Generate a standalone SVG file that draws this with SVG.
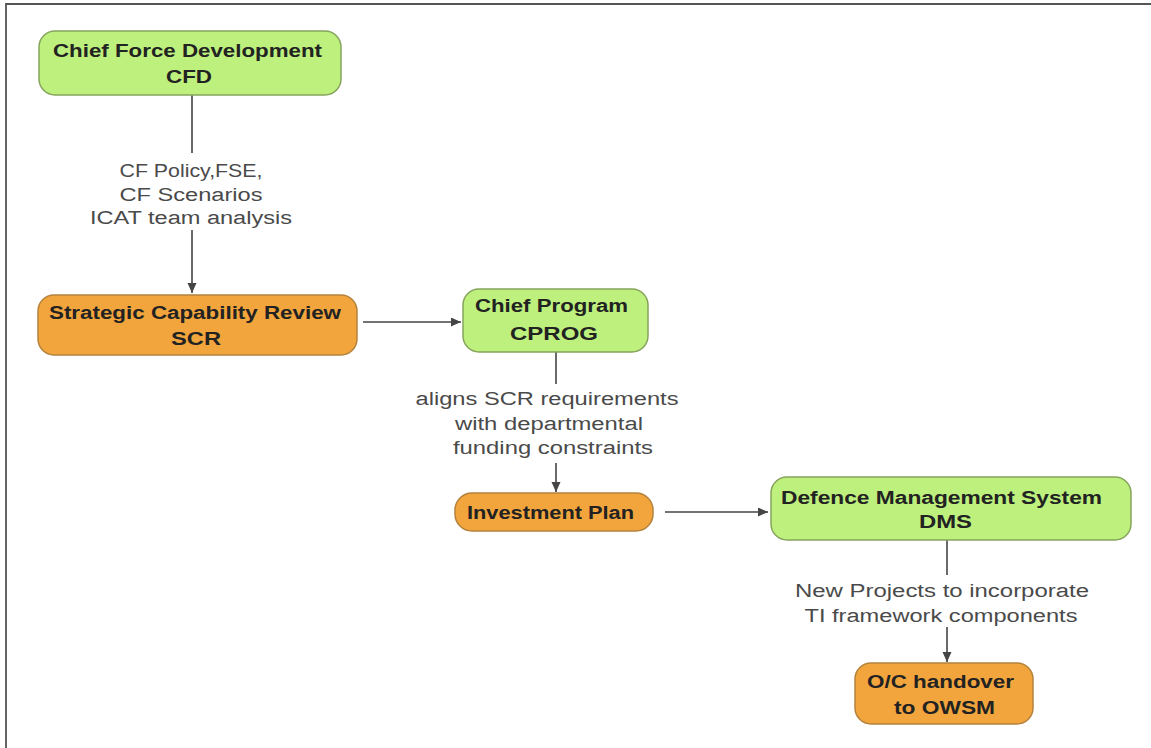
<svg xmlns="http://www.w3.org/2000/svg" width="1151" height="748" viewBox="0 0 1151 748">
<style>
.green{fill:#bdf07c;stroke:#86a45c;stroke-width:1.5}
.orange{fill:#f2a53d;stroke:#b4823c;stroke-width:1.5}
.nt{font-family:"Liberation Sans",Arial,sans-serif;font-size:18px;font-weight:bold;fill:#222;text-anchor:middle}
.lt{font-family:"Liberation Sans",Arial,sans-serif;font-size:18px;fill:#4a4a4a;text-anchor:middle}
.edge{stroke:#454545;stroke-width:1.6;fill:none}
.frame{stroke:#555;stroke-width:1.8;fill:none}
</style>
<defs>
<marker id="arr" markerUnits="userSpaceOnUse" markerWidth="11" markerHeight="10" refX="10" refY="4.5" orient="auto">
<path d="M0,0 L10,4.5 L0,9 z" fill="#454545"/>
</marker>
</defs>
<rect x="0" y="0" width="1151" height="748" fill="#fff"/>
<path class="frame" d="M6,748 L6,4 L1151,4"/>

<g id="connectors">
<line class="edge" x1="192" y1="95" x2="192" y2="153"/>
<text class="lt" x="191" y="177" textLength="143" lengthAdjust="spacingAndGlyphs">CF Policy,FSE,</text>
<text class="lt" x="191" y="201" textLength="143" lengthAdjust="spacingAndGlyphs">CF Scenarios</text>
<text class="lt" x="191" y="224" textLength="202" lengthAdjust="spacingAndGlyphs">ICAT team analysis</text>
<line class="edge" x1="192" y1="230" x2="192" y2="293" marker-end="url(#arr)"/>

<line class="edge" x1="363" y1="322" x2="461" y2="322" marker-end="url(#arr)"/>

<line class="edge" x1="556" y1="352" x2="556" y2="384"/>
<text class="lt" x="547" y="405" textLength="263" lengthAdjust="spacingAndGlyphs">aligns SCR requirements</text>
<text class="lt" x="549" y="430" textLength="188" lengthAdjust="spacingAndGlyphs">with departmental</text>
<text class="lt" x="553" y="454" textLength="200" lengthAdjust="spacingAndGlyphs">funding constraints</text>
<line class="edge" x1="556" y1="463" x2="556" y2="492" marker-end="url(#arr)"/>

<line class="edge" x1="665" y1="512" x2="768" y2="512" marker-end="url(#arr)"/>

<line class="edge" x1="947" y1="540" x2="947" y2="575"/>
<text class="lt" x="942" y="597" textLength="294" lengthAdjust="spacingAndGlyphs">New Projects to incorporate</text>
<text class="lt" x="941" y="622" textLength="273" lengthAdjust="spacingAndGlyphs">TI framework components</text>
<line class="edge" x1="947" y1="627" x2="947" y2="662" marker-end="url(#arr)"/>
</g>

<g id="cfd">
<rect class="green" x="39" y="31" width="302" height="64" rx="16"/>
<text class="nt" x="187.5" y="57" textLength="269" lengthAdjust="spacingAndGlyphs">Chief Force Development</text>
<text class="nt" x="189" y="83" textLength="46" lengthAdjust="spacingAndGlyphs">CFD</text>
</g>

<g id="scr">
<rect class="orange" x="38" y="295" width="319" height="60" rx="16"/>
<text class="nt" x="195" y="319" textLength="292" lengthAdjust="spacingAndGlyphs">Strategic Capability Review</text>
<text class="nt" x="196" y="345" textLength="50" lengthAdjust="spacingAndGlyphs">SCR</text>
</g>

<g id="cprog">
<rect class="green" x="463" y="289" width="185" height="63" rx="16"/>
<text class="nt" x="551.5" y="312" textLength="153" lengthAdjust="spacingAndGlyphs">Chief Program</text>
<text class="nt" x="554" y="340" textLength="88" lengthAdjust="spacingAndGlyphs">CPROG</text>
</g>

<g id="investment-plan">
<rect class="orange" x="455" y="493" width="198" height="38" rx="17"/>
<text class="nt" x="550.5" y="519" textLength="167" lengthAdjust="spacingAndGlyphs">Investment Plan</text>
</g>

<g id="dms">
<rect class="green" x="771" y="477" width="360" height="63" rx="16"/>
<text class="nt" x="941.5" y="504" textLength="321" lengthAdjust="spacingAndGlyphs">Defence Management System</text>
<text class="nt" x="945.5" y="528" textLength="53" lengthAdjust="spacingAndGlyphs">DMS</text>
</g>

<g id="oc-handover">
<rect class="orange" x="855" y="663" width="178" height="61" rx="16"/>
<text class="nt" x="940.5" y="688" textLength="147" lengthAdjust="spacingAndGlyphs">O/C handover</text>
<text class="nt" x="944.5" y="714" textLength="101" lengthAdjust="spacingAndGlyphs">to OWSM</text>
</g>
</svg>
